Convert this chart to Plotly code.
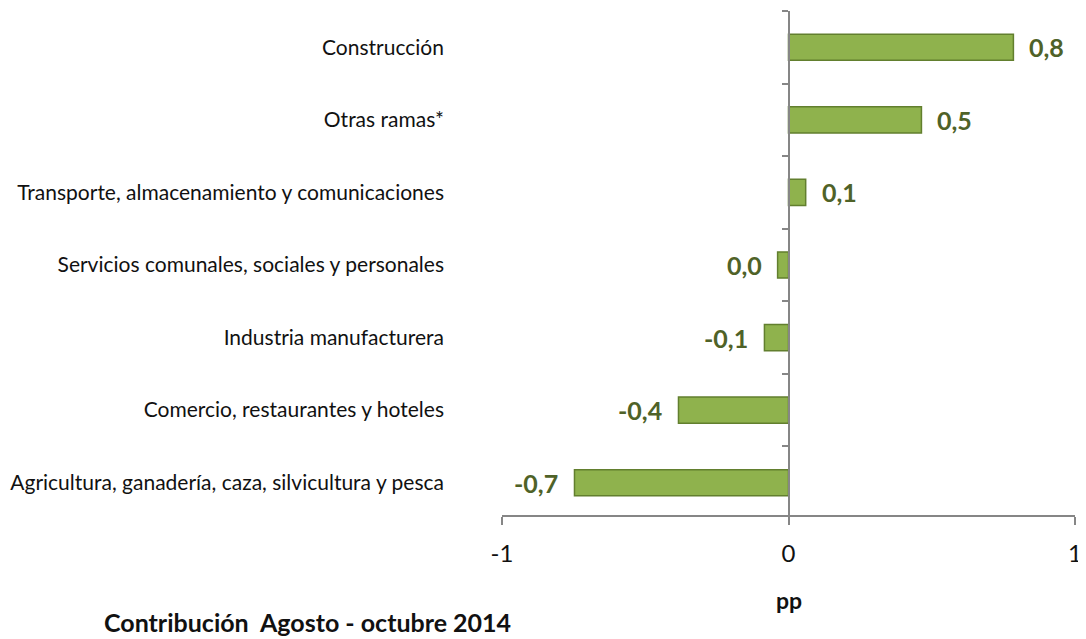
import plotly.graph_objects as go

categories = [
    "Construcción",
    "Otras ramas*",
    "Transporte, almacenamiento y comunicaciones",
    "Servicios comunales, sociales y personales",
    "Industria manufacturera",
    "Comercio, restaurantes y hoteles",
    "Agricultura, ganadería, caza, silvicultura y pesca",
]
values = [0.785, 0.464, 0.06, -0.038, -0.084, -0.384, -0.747]
value_labels = ["0,8", "0,5", "0,1", "0,0", "-0,1", "-0,4", "-0,7"]
x_ticks = [-1, 0, 1]
boundaries = [-0.5, 0.5, 1.5, 2.5, 3.5, 4.5, 5.5]

FONT = "Lato"
AXIS_COLOR = "#868686"
LABEL_COLOR = "#4F6228"
TEXT_COLOR = "#111111"

fig = go.Figure()
fig.add_trace(go.Bar(
    x=values, y=categories, orientation="h",
    marker=dict(color="#8FB24D", line=dict(color="#627F2E", width=1.5)),
    width=0.36,
    hoverinfo="skip",
))
# invisible trace to carry the zero-line y axis
fig.add_trace(go.Scatter(x=[0], y=[0], yaxis="y2", mode="markers",
                         marker=dict(opacity=0), hoverinfo="skip", showlegend=False))

annotations = []
for cat, v, lab in zip(categories, values, value_labels):
    annotations.append(dict(
        text="<b>%s</b>" % lab, x=v, y=cat, xref="x", yref="y",
        xanchor="left" if v >= 0 else "right", yanchor="middle",
        xshift=14 if v >= 0 else -14, showarrow=False,
        font=dict(family=FONT, size=25, color=LABEL_COLOR),
    ))
annotations += [
    dict(text="<b>pp</b>", xref="x", yref="paper", x=0, y=-0.159, yanchor="middle",
         showarrow=False, font=dict(family=FONT, size=23, color=TEXT_COLOR)),
    dict(text="<b>Contribución  Agosto - octubre 2014</b>", xref="paper", yref="paper",
         x=-0.3386, y=-0.203, xanchor="center", yanchor="middle", showarrow=False,
         font=dict(family=FONT, size=25, color=TEXT_COLOR)),
]

# page body has an 8px default margin, so the figure is 8px smaller
fig.update_layout(
    width=1078, height=631,
    margin=dict(l=494, r=11, t=3, b=120),
    paper_bgcolor="white", plot_bgcolor="white",
    showlegend=False,
    font=dict(family=FONT, color=TEXT_COLOR),
    xaxis=dict(
        range=[-1, 1], tickvals=x_ticks, ticktext=[str(v) for v in x_ticks],
        showgrid=False, zeroline=False, automargin=False,
        showline=True, linecolor=AXIS_COLOR, linewidth=2,
        ticks="outside", ticklen=8, tickcolor=AXIS_COLOR, tickwidth=2,
        ticklabelstandoff=8,
        tickfont=dict(family=FONT, size=24, color=TEXT_COLOR),
        anchor="free", position=0.006,
    ),
    yaxis=dict(
        range=[6.5, -0.5], showgrid=False, zeroline=False, showline=False,
        ticks="", ticklabelstandoff=57, automargin=False,
        tickfont=dict(family=FONT, size=21, color=TEXT_COLOR),
    ),
    yaxis2=dict(
        overlaying="y", anchor="free", position=0.5, automargin=False,
        range=[6.5, -0.5], tickvals=boundaries, showticklabels=False,
        showgrid=False, zeroline=False,
        showline=True, linecolor=AXIS_COLOR, linewidth=2,
        ticks="outside", ticklen=6, tickcolor=AXIS_COLOR, tickwidth=2,
    ),
    annotations=annotations,
)

fig.write_html("out.html")
